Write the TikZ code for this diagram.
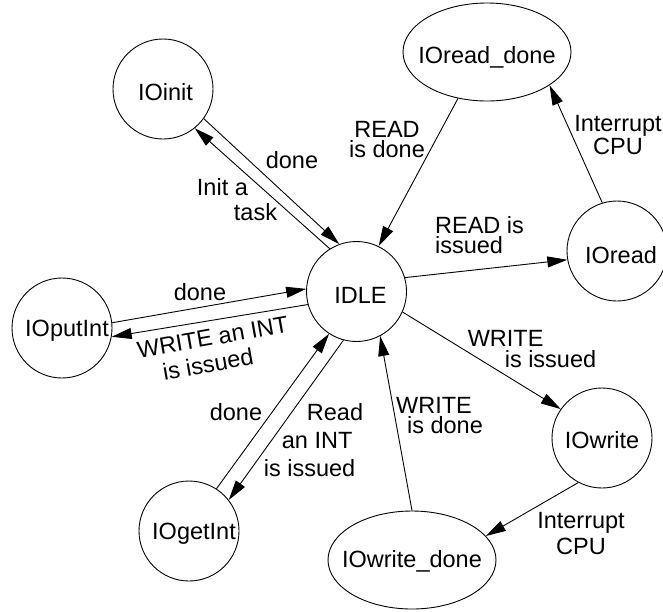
\documentclass[tikz,border=0pt]{standalone}
\usepackage{fontspec}
\setmainfont{Liberation Sans}
\usetikzlibrary{arrows.meta,calc,shapes.geometric}
\begin{document}
\begin{tikzpicture}[x=1pt,y=-1pt,
  state/.style={draw,circle,line width=0.9pt,minimum size=100pt,inner sep=0pt,text height=17pt,text depth=0pt,
    font=\fontsize{23.5}{28}\selectfont},
  estate/.style={draw,ellipse,line width=0.9pt,minimum width=168pt,minimum height=98pt,inner sep=0pt,text height=17pt,text depth=0pt,
    font=\fontsize{23.5}{28}\selectfont},
  lbl/.style={inner sep=0pt,font=\fontsize{23.5}{#1}\selectfont},
  lbl/.default=28,
  arr/.style={line width=0.9pt,-{Triangle[length=20pt,width=11pt]}}
]
\useasboundingbox (0,0) rectangle (663,611);

% states
\node[state,text height=22.5pt] (IOinit) at (163,89)  {\hspace*{5pt}IOinit};
\node[estate,text height=22pt]  (IOreaddone)  at (487,52)  {\makebox[0pt]{IOread\_done}};
\node[state,text height=23pt]   (IDLE)        at (356.5,291.5) {\hspace*{8pt}IDLE};
\node[state,text height=25pt]   (IOread)      at (617,251) {\hspace*{8pt}IOread};
\node[state]  (IOputInt)    at (62,328)  {\hspace*{10pt}IOputInt};
\node[state]  (IOgetInt)    at (189,531) {\hspace*{10pt}IOgetInt};
\node[state,text height=20pt]  (IOwrite)     at (602,438) {IOwrite};
\node[estate,text height=14pt] (IOwritedone) at (412,560) {\makebox[0pt]{IOwrite\_done}};

% paired connectors
\draw[arr] (IOinit.-36.7) -- (IDLE.110);
\draw[arr] (IDLE.122) -- (IOinit.-51);
\draw[arr] (IOputInt.6) -- (IDLE.177);
\draw[arr] (IDLE.195.5) -- (IOputInt.-10);
\draw[arr] (IOgetInt.57) -- (IDLE.237);
\draw[arr] (IDLE.255) -- (IOgetInt.38.5);

% single connectors
\draw[arr] (IOreaddone.-122.5) -- (IDLE.64);
\draw[arr] (IDLE.16) -- (IOread.190);
\draw[arr] (IOread.107) -- (IOreaddone.-28.4);
\draw[arr] (IDLE.-24.5) -- (IOwrite.145.7);
\draw[arr] (IOwrite.-118) -- (IOwritedone.18.4);
\draw[arr] (IOwritedone.90) -- (IDLE.-62.4);

% labels
\node[lbl] (l1) at (292,160) {done};
\node[lbl=25,align=left] (l2) at (237,199.5) {Init a\\\hspace*{37pt}task};
\node[lbl=20,align=center] (l3) at (387,140) {READ\\is done};
\node[lbl=23,align=center] (l4) at (618,135) {Interrupt\\CPU};
\node[lbl=20,align=left] (l5) at (479.5,235) {READ is\\issued};
\node[lbl] (l6) at (200,292) {done};
\node[lbl=26,align=center,rotate=10] (l7) at (215,350) {WRITE an INT\\\hspace*{-18.8pt}is issued};
\node[lbl=21,align=left] (l8) at (532,349.5) {WRITE\\\hspace*{37pt}is issued};
\node[lbl] (l9) at (236,412) {done};
\node[lbl=28,align=left] (l10) at (313.5,440) {\hspace*{43pt}Read\\\hspace*{18pt}an INT\\is issued};
\node[lbl=20,align=left] (l11) at (439.5,416) {WRITE\\\hspace*{11pt}is done};
\node[lbl=26,align=center] (l12) at (581,533.5) {Interrupt\\CPU};
\end{tikzpicture}
\end{document}
